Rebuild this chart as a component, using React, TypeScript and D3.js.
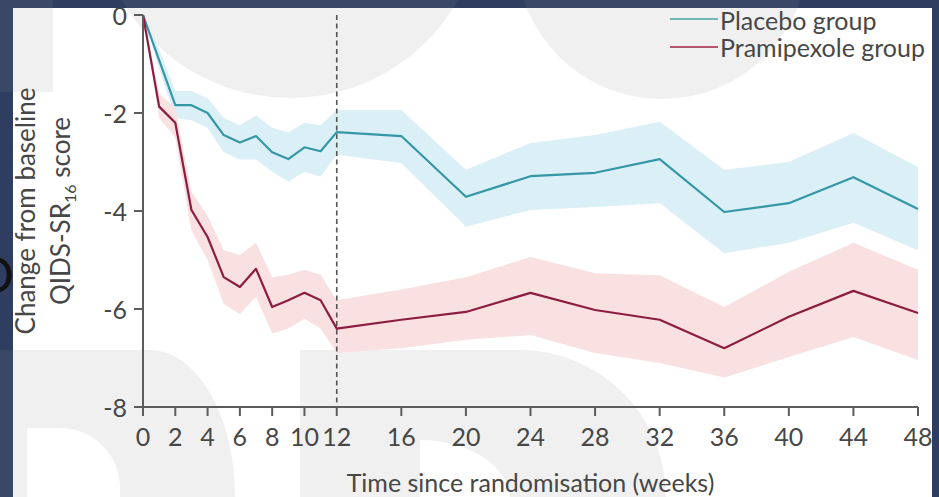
import React from "react";
import * as d3 from "d3";

const weeks = [0, 1, 2, 3, 4, 5, 6, 7, 8, 9, 10, 11, 12, 16, 20, 24, 28, 32, 36, 40, 44, 48];
const placeboMean = [0, -0.92, -1.84, -1.84, -2.0, -2.45, -2.6, -2.47, -2.8, -2.94, -2.7, -2.78, -2.39, -2.47, -3.71, -3.29, -3.22, -2.94, -4.02, -3.84, -3.31, -3.96];
const placeboUpper = [0, -0.7, -1.55, -1.55, -1.7, -2.1, -2.25, -2.05, -2.3, -2.4, -2.2, -2.25, -1.94, -1.94, -3.16, -2.61, -2.45, -2.18, -3.16, -3.0, -2.41, -3.1];
const placeboLower = [0, -1.1, -2.1, -2.15, -2.3, -2.8, -2.95, -2.95, -3.2, -3.4, -3.2, -3.3, -2.85, -3.02, -4.32, -3.98, -3.92, -3.84, -4.86, -4.65, -4.24, -4.8];
const pramMean = [0, -1.87, -2.2, -3.98, -4.53, -5.35, -5.55, -5.18, -5.96, -5.82, -5.67, -5.82, -6.4, -6.22, -6.06, -5.67, -6.02, -6.22, -6.8, -6.16, -5.63, -6.08];
const pramUpper = [0, -1.6, -1.9, -3.6, -4.1, -4.8, -4.9, -4.65, -5.35, -5.3, -5.2, -5.3, -5.82, -5.6, -5.35, -4.94, -5.27, -5.31, -5.96, -5.24, -4.65, -5.2];
const pramLower = [0, -2.1, -2.5, -4.4, -5.0, -5.9, -6.1, -5.75, -6.5, -6.4, -6.2, -6.4, -6.9, -6.8, -6.63, -6.53, -6.9, -7.1, -7.4, -6.98, -6.57, -7.04];

const xTicks = [0, 2, 4, 6, 8, 10, 12, 16, 20, 24, 28, 32, 36, 40, 44, 48];
const yTicks = [0, -2, -4, -6, -8];
const seriesNames = ["Placebo group", "Pramipexole group"];
const xTitle = "Time since randomisation (weeks)";
const yTitle1 = "Change from baseline";

const W = 939;
const H = 497;
const NAVY = "#2e3d60";
const FONT = "Lato, 'Open Sans', sans-serif";
const TXT = "#474747";
const AX = "#5c5c5c";

export default function App() {
  const x = d3.scaleLinear().domain([0, 48]).range([143, 918]);
  const y = d3.scaleLinear().domain([0, -8]).range([15, 407]);

  const idx = weeks.map((_, i) => i);
  const area = (lo: number[], hi: number[]) =>
    d3.area<number>().x((i) => x(weeks[i])).y0((i) => y(lo[i])).y1((i) => y(hi[i]))(idx) || "";
  const line = (v: number[]) => d3.line<number>().x((i) => x(weeks[i])).y((i) => y(v[i]))(idx) || "";

  const series = [
    { name: seriesNames[0], mean: placeboMean, lo: placeboLower, hi: placeboUpper, line: "#3497a6", band: "#dbeff7", legend: "#6fb7b4" },
    { name: seriesNames[1], mean: pramMean, lo: pramLower, hi: pramUpper, line: "#8c1d41", band: "#f9e0e1", legend: "#b5576f" },
  ];

  const wm = "rgba(140,140,140,0.13)";

  return (
    <svg width={W} height={H} style={{ position: "absolute", left: 0, top: 0, display: "block" }}>
      <defs>
        <clipPath id="chartClip">
          <rect x={13} y={8} width={919} height={H - 8} />
        </clipPath>
      </defs>
      <rect x={0} y={0} width={W} height={H} fill={NAVY} />
      <text x={14} y={293} textAnchor="end" fontSize={50} fontFamily={FONT} fill="#111">D</text>
      <rect x={13} y={8} width={919} height={H - 8} fill="#ffffff" />
      {/* watermark shapes */}
      <g fill={wm}>
        <path d="M0,0 H53 V92 H0 Z" />
        <circle cx={290} cy={-95} r={193} />
        <circle cx={662} cy={-47} r={146} />
        <path d="M0,350 H150 A85,147 0 0 1 235,497 H120 V488 A60,60 0 0 0 60,428 H27 V497 H0 Z" />
        <path d="M300,350 H520 A146,147 0 0 1 666,497 H510 V500 A90,60 0 0 0 420,440 V497 H300 Z" />
      </g>
      <g clipPath="url(#chartClip)">
        {series.map((s) => (
          <path key={s.name + "b"} d={area(s.lo, s.hi)} fill={s.band} />
        ))}
        <line x1={x(12)} x2={x(12)} y1={y(0)} y2={y(-8)} stroke="#555" strokeWidth={1.6} strokeDasharray="5,3.5" />
        {series.map((s) => (
          <path key={s.name + "l"} d={line(s.mean)} fill="none" stroke={s.line} strokeWidth={2.2} strokeLinejoin="round" />
        ))}
        {/* axes */}
        <line x1={x(0)} x2={x(0)} y1={y(0)} y2={y(-8)} stroke={AX} strokeWidth={2} />
        <line x1={x(0)} x2={x(48)} y1={y(-8)} y2={y(-8)} stroke={AX} strokeWidth={2} />
        {yTicks.map((t) => (
          <g key={"y" + t}>
            <line x1={x(0) - 9} x2={x(0)} y1={y(t)} y2={y(t)} stroke={AX} strokeWidth={2} />
            <text x={x(0) - 16} y={y(t) + 10} textAnchor="end" fontSize={25} fontFamily={FONT} fill={TXT}>
              {t === 0 ? "0" : "-" + Math.abs(t)}
            </text>
          </g>
        ))}
        {xTicks.map((t) => (
          <g key={"x" + t}>
            <line x1={x(t)} x2={x(t)} y1={y(-8)} y2={y(-8) + 9} stroke={AX} strokeWidth={2} />
            <text x={x(t)} y={446} textAnchor="middle" fontSize={25} fontFamily={FONT} fill={TXT}>
              {t}
            </text>
          </g>
        ))}
        <text x={(x(0) + x(48)) / 2} y={492} textAnchor="middle" fontSize={25} fontFamily={FONT} fill={TXT}>
          {xTitle}
        </text>
        <g transform={`translate(35,${(y(0) + y(-8)) / 2}) rotate(-90)`}>
          <text x={0} y={0} textAnchor="middle" fontSize={26} fontFamily={FONT} fill={TXT}>
            {yTitle1}
          </text>
          <text x={0} y={35} textAnchor="middle" fontSize={26} fontFamily={FONT} fill={TXT}>
            QIDS-SR<tspan fontSize={16} dy={6}>16</tspan>
            <tspan dy={-6}> score</tspan>
          </text>
        </g>
        {/* legend */}
        {series.map((s, i) => (
          <g key={s.name + "lg"}>
            <line x1={670} x2={718} y1={19 + i * 28} y2={19 + i * 28} stroke={s.legend} strokeWidth={2.2} />
            <text x={720} y={30 + i * 27} fontSize={25} fontFamily={FONT} fill={TXT}>
              {s.name}
            </text>
          </g>
        ))}
      </g>
    </svg>
  );
}
